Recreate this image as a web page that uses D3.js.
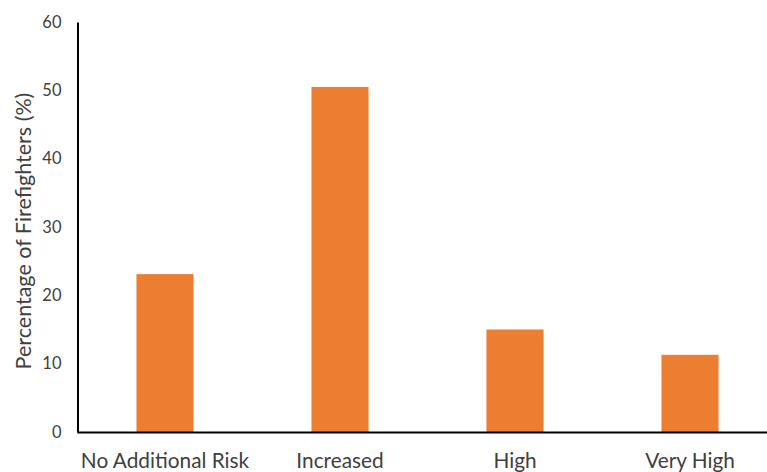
<!DOCTYPE html>
<html><head><meta charset="utf-8">
<script src="https://cdn.jsdelivr.net/npm/d3@7"></script>
<style>body{margin:0;background:#fff}svg{display:block}text{font-family:Lato,"Open Sans",sans-serif;fill:#404040}</style>
</head><body>
<svg id="c" width="767" height="472"></svg>
<script>
const categories = ["No Additional Risk","Increased","High","Very High"];
const values = [23.1, 50.5, 15.0, 11.3];
const yTicks = [0,10,20,30,40,50,60];
const yTitle = "Percentage of Firefighters (%)";

const svg = d3.select("#c");
const x0 = 77.5, yBottom = 432, yTop = 22;
const x = d3.scaleBand().domain(categories).range([x0, x0 + 700]).paddingInner(0.674).paddingOuter(0.337);
const y = d3.scaleLinear().domain([0,60]).range([yBottom, yTop]);

svg.selectAll("rect.bar").data(values).join("rect")
  .attr("class","bar")
  .attr("x",(d,i)=>x(categories[i]))
  .attr("width",x.bandwidth())
  .attr("y",d=>y(d))
  .attr("height",d=>yBottom - y(d))
  .attr("fill","#ED7D31");

// y axis
const ya = svg.append("g").attr("transform",`translate(${x0},0)`)
  .call(d3.axisLeft(y).tickValues(yTicks).tickSize(0).tickPadding(16));
ya.select(".domain").attr("stroke","#000").attr("stroke-width",2);
ya.selectAll("text").style("font-size","16.5px").attr("fill","#404040");

// x axis
const xa = svg.append("g").attr("transform",`translate(0,${yBottom})`)
  .call(d3.axisBottom(x).tickSize(0).tickPadding(21));
xa.select(".domain").attr("d",`M${x0},0.5H767`).attr("stroke","#000").attr("stroke-width",2);
xa.selectAll("text").style("font-size","20.8px").attr("fill","#404040");

svg.append("text")
  .attr("transform",`translate(31,231) rotate(-90)`)
  .attr("text-anchor","middle")
  .style("font-size","21.5px")
  .text(yTitle);
</script>
</body></html>
